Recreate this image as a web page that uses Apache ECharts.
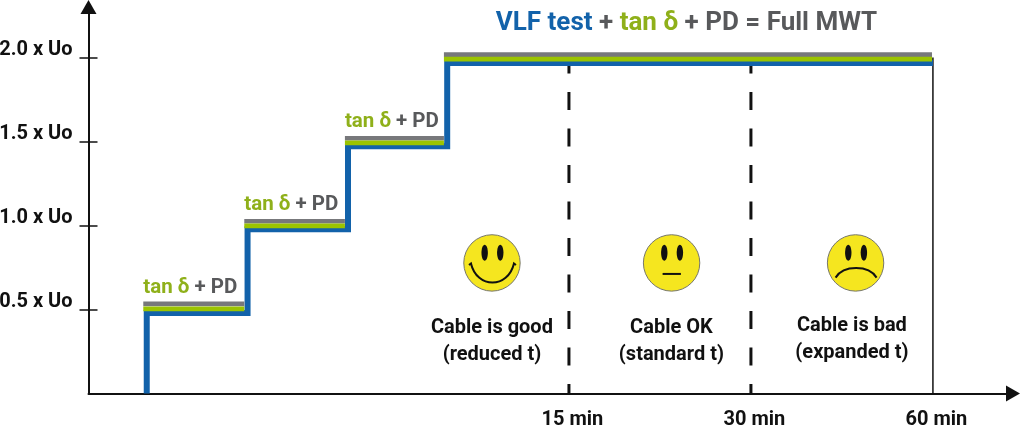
<!DOCTYPE html>
<html>
<head>
<meta charset="utf-8">
<style>html,body{margin:0;padding:0;background:#fff}#chart{width:1020px;height:431px}</style>
<script src="https://cdn.jsdelivr.net/npm/echarts@6/dist/echarts.min.js"></script>
</head>
<body>
<div id="chart"></div>
<script>
// x axis is schematic: 1 unit = one time mark (15 / 30 / 60 min)
var timeTicks = [1, 2, 3];
var timeLabels = {1: '15 min', 2: '30 min', 3: '60 min'};
var voltageTicks = [0.5, 1, 1.5, 2];

var blueStepX = [-1.32, -0.766, -0.214, 0.331, 3];
var blueStepY = [0.479, 0.977, 1.471, 1.967];
var treadStart = [-1.339, -0.784, -0.231, 0.313];
var treadEnd = [-0.784, -0.231, 0.313, 2.995];
var greenY = [0.503, 0.997, 1.491, 1.99];
var greyY = [0.533, 1.025, 1.519, 2.017];

var dashTop = 2.012;
var limitTop = 2.0;

var stepLabelY = [0.628, 1.122, 1.616];
var faces = [
    [0.577, 0.777, 'good'],
    [1.564, 0.777, 'ok'],
    [2.575, 0.777, 'bad']
];
var verdicts = [
    [0.577, 0.312, 'Cable is good\n(reduced t)'],
    [1.563, 0.312, 'Cable OK\n(standard t)'],
    [2.555, 0.324, 'Cable is bad\n(expanded t)']
];
var titlePos = [1.646, 2.2];

var BLUE = '#1262aa', GREEN = '#9bc400', GREY = '#77787b';
var TEXTGREEN = '#8fb01a', TEXTGREY = '#58595b', BLACK = '#111111';
var FONT = 'Roboto';

var chart = echarts.init(document.getElementById('chart'));

function bluePath() {
    var pts = [[blueStepX[0], 0]];
    blueStepY.forEach(function (y, i) {
        pts.push([blueStepX[i], y]);
        pts.push([blueStepX[i + 1], y]);
    });
    return pts;
}

function treads(levels, color, z) {
    return levels.map(function (y, i) {
        return {
            type: 'line', silent: true, symbol: 'none', z: z,
            lineStyle: {color: color, width: 4.7, cap: 'butt'},
            data: [[treadStart[i], y], [treadEnd[i], y]]
        };
    });
}

function vline(x, top, style) {
    return {
        type: 'line', silent: true, symbol: 'none', z: 1,
        lineStyle: style,
        data: [[x, top], [x, 0]]
    };
}

function renderFace(params, api) {
    var c = api.coord([api.value(0), api.value(1)]);
    var kind = faces[params.dataIndex][2];
    var mouth;
    if (kind === 'good') {
        mouth = 'M-23 2L-21 0.5C-15 26 16 26 22 0.5L24 2';
    } else if (kind === 'ok') {
        mouth = 'M-9 11L9.3 11';
    } else {
        mouth = 'M-20 14.7C-12 2 13 2 21 14.7';
    }
    return {
        type: 'group', x: c[0], y: c[1],
        children: [
            {type: 'circle', shape: {cx: 0, cy: 0, r: 28.2},
                style: {fill: '#f5e61f', stroke: '#77776a', lineWidth: 1}},
            {type: 'ellipse', shape: {cx: -7.3, cy: -10.3, rx: 3.2, ry: 8}, style: {fill: BLACK}},
            {type: 'ellipse', shape: {cx: 8.3, cy: -10.3, rx: 3.2, ry: 8}, style: {fill: BLACK}},
            {type: 'path', shape: {pathData: mouth},
                style: {fill: 'none', stroke: BLACK, lineWidth: 2}}
        ]
    };
}

var textLabel = {
    show: true, position: [0, 0], fontFamily: FONT, fontWeight: 700
};

var series = [
    vline(timeTicks[0], dashTop, {color: BLACK, width: 3, type: [18, 18.5], cap: 'butt'}),
    vline(timeTicks[1], dashTop, {color: BLACK, width: 3, type: [18, 18.5], cap: 'butt'}),
    vline(timeTicks[2], limitTop, {color: BLACK, width: 1.5})
];
series.push({
    type: 'line', silent: true, symbol: 'none', z: 3,
    lineStyle: {color: BLUE, width: 6, join: 'miter', cap: 'butt'},
    data: bluePath()
});
series = series.concat(treads(greyY, GREY, 4), treads(greenY, GREEN, 4));

series.push({
    type: 'custom', silent: true, z: 5,
    renderItem: renderFace,
    data: faces.map(function (f) { return [f[0], f[1]]; })
});

// tan delta + PD captions over the first three steps
series.push({
    type: 'scatter', silent: true, symbolSize: 0, z: 6, itemStyle: {opacity: 1},
    data: stepLabelY.map(function (y, i) { return [treadStart[i], y]; }),
    label: Object.assign({}, textLabel, {
        align: 'left', verticalAlign: 'middle',
        formatter: '{g|tan δ }{k|+ PD}',
        rich: {
            g: {color: TEXTGREEN, fontSize: 20.5, fontFamily: FONT, fontWeight: 700},
            k: {color: TEXTGREY, fontSize: 20.5, fontFamily: FONT, fontWeight: 700}
        }
    })
});

series.push({
    type: 'scatter', silent: true, symbolSize: 0, z: 6, itemStyle: {opacity: 1},
    data: verdicts.map(function (v) { return [v[0], v[1]]; }),
    label: Object.assign({}, textLabel, {
        align: 'center', verticalAlign: 'middle',
        fontSize: 20, lineHeight: 27, color: BLACK,
        formatter: function (p) { return verdicts[p.dataIndex][2]; }
    })
});

series.push({
    type: 'scatter', silent: true, symbolSize: 0, z: 6, itemStyle: {opacity: 1},
    data: [titlePos],
    label: Object.assign({}, textLabel, {
        align: 'center', verticalAlign: 'middle',
        formatter: '{b|VLF test }{k|+ }{g|tan δ }{k|+ PD = Full MWT}',
        rich: {
            b: {color: BLUE, fontSize: 26, fontFamily: FONT, fontWeight: 700},
            g: {color: TEXTGREEN, fontSize: 26, fontFamily: FONT, fontWeight: 700},
            k: {color: TEXTGREY, fontSize: 26, fontFamily: FONT, fontWeight: 700}
        }
    })
});

var axisLineStyle = {color: BLACK, width: 2};

var option = {
    animation: false,
    backgroundColor: '#ffffff',
    grid: {left: 88.5, right: 7, top: 7, bottom: 37.5, outerBoundsMode: 'none'},
    xAxis: {
        type: 'value', min: -1.64, max: 3.44, splitLine: {show: false},
        axisLine: {show: true, onZero: false, lineStyle: axisLineStyle,
            symbol: ['none', 'triangle'], symbolSize: [16, 14]},
        axisTick: {show: false},
        axisLabel: {
            customValues: timeTicks, margin: 16, padding: [0, 0, 0, 7],
            fontFamily: FONT, fontWeight: 700, fontSize: 20, color: BLACK,
            formatter: function (v) { return timeLabels[v]; }
        }
    },
    yAxis: [
        {
            type: 'value', min: 0, max: 2.3, splitLine: {show: false},
            axisLine: {show: true, onZero: false, lineStyle: axisLineStyle,
                symbol: ['none', 'triangle'], symbolSize: [16, 14]},
            axisTick: {show: true, customValues: voltageTicks, length: 9,
                lineStyle: {color: BLACK, width: 1.5}},
            axisLabel: {
                customValues: voltageTicks, margin: 16,
                verticalAlign: 'bottom', lineHeight: 14,
                fontFamily: FONT, fontWeight: 700, fontSize: 20, color: BLACK,
                formatter: function (v) { return v.toFixed(1) + ' x Uo'; }
            }
        },
        {
            type: 'value', min: 0, max: 2.3, position: 'left', splitLine: {show: false},
            axisLine: {show: false, onZero: false},
            axisTick: {show: true, inside: true, customValues: voltageTicks, length: 9,
                lineStyle: {color: BLACK, width: 1.5}},
            axisLabel: {show: false}
        }
    ],
    series: series
};

chart.setOption(option);
</script>
</body>
</html>
